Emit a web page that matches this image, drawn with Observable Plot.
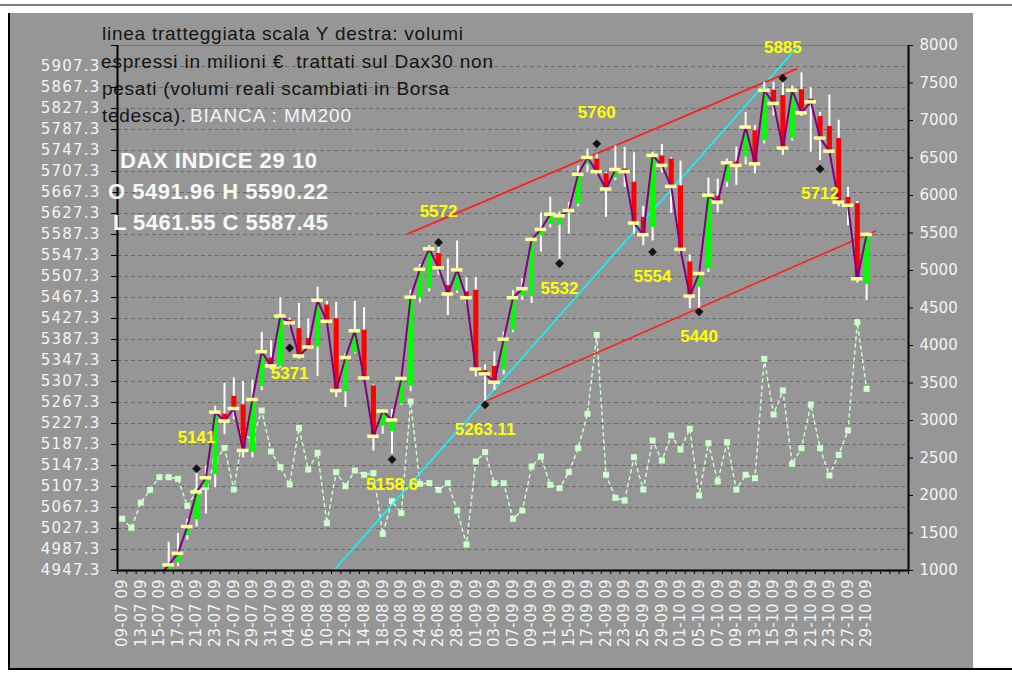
<!DOCTYPE html>
<html><head><meta charset="utf-8">
<script src="https://cdn.jsdelivr.net/npm/d3@7"></script>
<script src="https://cdn.jsdelivr.net/npm/@observablehq/plot@0.6"></script>
<style>
body{margin:0;background:#fff;}
#wrap{position:relative;width:1012px;height:676px;overflow:hidden;}
.deco{position:absolute;}
#wrap svg{position:absolute;left:0;top:0;}
</style></head><body>
<div id="wrap">
 <div class="deco" style="left:0;top:4px;width:1012px;height:2px;background:#808080"></div>
 <div class="deco" style="left:10px;top:13px;width:963px;height:655px;background:#969696"></div>
 <div class="deco" style="left:8px;top:13px;width:2px;height:656px;background:#000"></div>
 <div class="deco" style="left:8px;top:668px;width:1004px;height:2px;background:#000"></div>
</div>
<script>
// ---- data ----
const dates = ["09-07 09","10-07 09","13-07 09","14-07 09","15-07 09","16-07 09","17-07 09","20-07 09","21-07 09","22-07 09","23-07 09","24-07 09","27-07 09","28-07 09","29-07 09","30-07 09","31-07 09",
"03-08 09","04-08 09","05-08 09","06-08 09","07-08 09","10-08 09","11-08 09","12-08 09","13-08 09","14-08 09","17-08 09","18-08 09","19-08 09","20-08 09","21-08 09","24-08 09","25-08 09","26-08 09","27-08 09","28-08 09","31-08 09",
"01-09 09","02-09 09","03-09 09","04-09 09","07-09 09","08-09 09","09-09 09","10-09 09","11-09 09","14-09 09","15-09 09","16-09 09","17-09 09","18-09 09","21-09 09","22-09 09","23-09 09","24-09 09","25-09 09","28-09 09","29-09 09","30-09 09",
"01-10 09","02-10 09","05-10 09","06-10 09","07-10 09","08-10 09","09-10 09","12-10 09","13-10 09","14-10 09","15-10 09","16-10 09","19-10 09","20-10 09","21-10 09","22-10 09","23-10 09","26-10 09","27-10 09","28-10 09","29-10 09"];
const extraSlots = 4; // empty categories at the right end of the axis

const open = [4570,4640,4580,4725,4790,4925,4962,5014,5044,5105,
5130,5245,5279,5263,5172,5298,5352,5336,5424,5408,
5389,5373,5453,5427,5288,5362,5405,5299,5222,5212,
5264,5298,5467,5484,5551,5490,5480,5478,5481,5328,
5336,5329,5405,5470,5469,5585,5607,5605,5628,5645,
5720,5731,5703,5695,5712,5687,5620,5601,5737,5731,
5680,5535,5487,5522,5660,5687,5725,5735,5785,5766,
5862,5852,5770,5863,5845,5812,5793,5770,5658,5646,
5491.96];
const high = [4660,4655,4730,4800,4940,5001,5018,5045,5133,5146,
5260,5304,5314,5307,5310,5401,5385,5467,5428,5456,
5427,5487,5460,5458,5360,5460,5448,5301,5254,5254,
5318,5481,5530,5566,5563,5541,5575,5505,5506,5339,
5364,5402,5480,5503,5580,5628,5658,5630,5648,5718,
5750,5740,5705,5756,5753,5743,5641,5744,5759,5734,
5727,5548,5518,5695,5693,5731,5754,5820,5795,5877,
5877,5880,5870,5895,5867,5820,5853,5805,5677,5650,
5590.22];
const low = [4560,4560,4575,4700,4785,4915,4955,5005,5030,5055,
5105,5206,5235,5162,5162,5290,5330,5333,5410,5350,
5370,5317,5415,5277,5258,5360,5310,5175,5207,5169,
5262,5288,5457,5478,5510,5433,5475,5455,5316,5269,
5290,5320,5400,5462,5456,5554,5600,5540,5588,5640,
5705,5700,5620,5690,5677,5588,5566,5575,5705,5627,
5550,5446,5443,5515,5629,5677,5681,5720,5703,5760,
5813,5738,5765,5812,5744,5728,5740,5640,5604,5495,
5461.55];
const close = [4645,4576,4722,4786,4936,4958,4980,5031,5097,5124,
5249,5232,5256,5176,5273,5364,5337,5432,5419,5356,
5373,5462,5422,5290,5353,5404,5314,5203,5251,5234,
5313,5468,5521,5560,5524,5474,5520,5467,5331,5322,
5306,5388,5467,5484,5578,5597,5626,5623,5633,5702,
5734,5707,5674,5711,5707,5609,5587,5738,5719,5679,
5559,5470,5513,5662,5649,5724,5719,5792,5722,5862,
5837,5752,5862,5819,5840,5771,5746,5649,5643,5503,
5587.45];
// volumes (milioni €), right axis
const volume = [1690,1570,1905,2076,2244,2244,2222,1862,2050,2115,
2458,2636,2080,2822,2742,3133,2587,2378,2147,2902,
2347,2569,1631,2311,2124,2333,2276,2298,1489,1925,
1765,3253,2156,2164,2076,2164,1800,1347,2453,2578,
2164,2164,1689,1800,2387,2520,2142,2098,2311,2631,
3089,4140,2276,1969,1933,2511,2080,2733,2467,2800,
2613,2889,2000,2698,2187,2711,2080,2276,2231,3822,
3080,3400,2422,2631,3213,2631,2267,2542,2867,4311,
3422];
// pivot points (index of day, value)
const pivotHighs = [{i:8,v:5141,label:"5141"},{i:34,v:5572,label:"5572"},{i:51,v:5760,label:"5760"},{i:71,v:5885,label:"5885"}];
const pivotLows = [{i:18,v:5371,label:"5371"},{i:29,v:5158.6,label:"5158.6"},{i:39,v:5263.11,label:"5263.11"},{i:47,v:5532,label:"5532"},{i:57,v:5554,label:"5554"},{i:62,v:5440,label:"5440"},{i:75,v:5712,label:"5712"}];
// trend lines (fractional day index, value)
const upperTrend = [{i:30.7,v:5588.6},{i:72.46,v:5902.9}];
const lowerTrend = [{i:38.86,v:5268},{i:80.95,v:5594}];
const cyanTrend = [{i:22.74,v:4947.3},{i:72.71,v:5947.3}];
// axes
const yMin = 4947.3, yMax = 5947.3, yStep = 40;
const volMin = 1000, volMax = 8000, volStep = 500;
const headerLines = ["DAX INDICE 29 10","O 5491.96 H 5590.22","L 5461.55 C 5587.45"];
const noteLines = ["linea tratteggiata scala Y destra: volumi","espressi in milioni €  trattati sul Dax30 non","pesati (volumi reali scambiati in Borsa","tedesca)."];
const noteWhite = "BIANCA : MM200";

// ---- build ----
const nCat = dates.length + extraSlots;
const toLeft = v => yMin + (v - volMin) / (volMax - volMin) * (yMax - yMin);
const fromLeft = y => String(Math.round(volMin + (y - yMin) / (yMax - yMin) * (volMax - volMin)));
const ohlc = close.map((c, i) => ({i, o: open[i], h: high[i], l: low[i], c}));
const vol = volume.map((v, i) => ({i, v, y: toLeft(v)}));
const leftTicks = d3.range(0, 25).map(k => +(yMin + yStep * k).toFixed(1));
const gridTicks = d3.range(1, 25).map(k => yMin + yStep * k);
const rightTicks = d3.range(volMin, volMax + 1, volStep).map(toLeft);
const labelIdx = dates.map((d, i) => i).filter(i => i % 2 === 0);
const boundaries = d3.range(0, nCat + 1).map(k => k - 0.5);
const pivots = pivotHighs.concat(pivotLows);
const font = "DejaVu Sans";
const labelFont = "Liberation Sans, Arial, sans-serif";

const chart = Plot.plot({
  width: 1012, height: 676,
  marginLeft: 117, marginRight: 104, marginTop: 45, marginBottom: 106,
  x: {type: "linear", domain: [-0.5, nCat - 0.5], axis: null, label: null},
  y: {domain: [yMin, yMax], axis: null, label: null},
  style: {background: "transparent", fontFamily: font, fontSize: "15px", overflow: "visible"},
  marks: [
    Plot.ruleY(gridTicks, {stroke: "#6a6a6a", strokeDasharray: "4,3", strokeWidth: 1}),
    Plot.ruleY([yMax], {stroke: "#777", strokeWidth: 1}),
    Plot.line(vol, {x: "i", y: "y", stroke: "#ccffcc", strokeWidth: 1.5, strokeDasharray: "3,4"}),
    Plot.dot(vol, {x: "i", y: "y", symbol: "square", r: 3.4, fill: "#ccffcc", stroke: "none"}),
    Plot.line(cyanTrend, {x: "i", y: "v", stroke: "#00ffff", strokeWidth: 1.5, clip: true}),
    Plot.line(upperTrend, {x: "i", y: "v", stroke: "#ff2020", strokeWidth: 1.8}),
    Plot.line(lowerTrend, {x: "i", y: "v", stroke: "#ff2020", strokeWidth: 1.6}),
    Plot.ruleX(ohlc, {x: "i", y1: "l", y2: "h", stroke: "white", strokeWidth: 2, clip: true}),
    Plot.ruleX(ohlc.filter(d => d.c >= d.o), {x: "i", y1: "o", y2: "c", stroke: "#00ff00", strokeWidth: 5, clip: true}),
    Plot.ruleX(ohlc.filter(d => d.c < d.o), {x: "i", y1: "o", y2: "c", stroke: "#ff0000", strokeWidth: 5, clip: true}),
    Plot.line(ohlc, {x: "i", y: "c", stroke: "#800080", strokeWidth: 2, clip: true}),
    Plot.ruleY(ohlc.filter(d => d.c >= yMin), {y: "c", x1: d => d.i - 0.62, x2: d => d.i + 0.62, stroke: "#ffff99", strokeWidth: 3.5}),
    Plot.dot(pivots, {x: "i", y: "v", symbol: "diamond2", r: 4, fill: "#151515"}),
    Plot.text(pivotHighs, {x: "i", y: "v", text: "label", dy: -31, fill: "#ffff00", fontWeight: "bold", fontSize: 17, fontFamily: labelFont}),
    Plot.text(pivotLows, {x: "i", y: "v", text: "label", dy: 25, fill: "#ffff00", fontWeight: "bold", fontSize: 17, fontFamily: labelFont}),
    // axis lines
    Plot.ruleX([-0.5], {stroke: "black", strokeWidth: 2}),
    Plot.ruleX([nCat - 0.5], {stroke: "black", strokeWidth: 2}),
    Plot.ruleY([yMin], {stroke: "black", strokeWidth: 2}),
    // left axis
    Plot.axisY({anchor: "left", label: null, ticks: leftTicks.concat([yMax]), tickSize: 6, tickFormat: () => "", stroke: "black"}),
    Plot.axisY({anchor: "left", label: null, ticks: leftTicks, tickSize: 0, tickPadding: 17, tickFormat: d => d.toFixed(1), color: "#f4f4f4", fontSize: 15}),
    // right axis (volumes)
    Plot.axisY({anchor: "right", label: null, ticks: rightTicks, tickSize: 4, tickFormat: () => "", stroke: "black"}),
    Plot.axisY({anchor: "right", label: null, ticks: rightTicks, tickSize: 0, tickPadding: 11, tickFormat: fromLeft, color: "#f4f4f4", fontSize: 15}),
    // bottom axis
    Plot.axisX({label: null, ticks: boundaries, tickSize: 4, tickFormat: () => "", stroke: "black"}),
    Plot.axisX({label: null, ticks: labelIdx, tickSize: 0, tickPadding: 9, tickRotate: -90, tickFormat: i => dates[i], color: "#f4f4f4", fontSize: 15})
  ]
});
document.getElementById("wrap").appendChild(chart);

const svg = d3.select(chart);
// left-axis labels are a little wider in the original
svg.selectAll('g[aria-label="y-axis tick label"] text').each(function() {
  if (this.textContent.includes(".")) d3.select(this).style("letter-spacing", "1.2px");
});
const g = svg.append("g").attr("text-anchor", "start");
function addText(str, x1, x2, cy, size, weight, fill) {
  g.append("text").attr("x", x1).attr("y", cy).attr("dy", "0.36em")
    .attr("text-anchor", "start")
    .attr("textLength", x2 - x1).attr("lengthAdjust", "spacing")
    .style("white-space", "pre")
    .attr("font-family", labelFont)
    .attr("font-size", size).attr("font-weight", weight).attr("fill", fill)
    .text(str);
}
// note text box
const noteBox = [[102, 463, 33], [101, 493, 61.5], [102, 449, 88], [102, 186, 115]];
noteLines.forEach((s, k) => addText(s, noteBox[k][0], noteBox[k][1], noteBox[k][2], 19, "normal", "#141414"));
addText(noteWhite, 190, 351, 115, 19, "normal", "#f4f4f4");
// header with OHLC of last day
const headBox = [[120, 317, 160], [108, 328, 191], [113, 328, 222]];
headerLines.forEach((s, k) => addText(s, headBox[k][0], headBox[k][1], headBox[k][2], 22, "bold", "#f8f8f8"));
</script>
</body></html>
